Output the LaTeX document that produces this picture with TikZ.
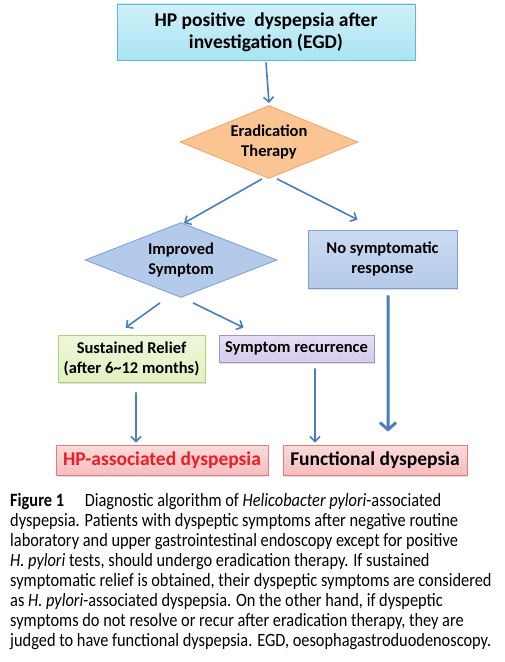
\documentclass[tikz,border=0pt]{standalone}
\usepackage{fontspec}
\setmainfont{Carlito}
\newfontfamily\captionfont[FakeStretch=0.87]{Carlito}
\usepackage{tikz}
\usetikzlibrary{shapes.geometric, arrows.meta, shadows}
\definecolor{arrowblue}{HTML}{4A7EBB}
\definecolor{cyanfill}{HTML}{A9E4F2}
\definecolor{cyanline}{HTML}{5DB8D2}
\definecolor{orangefill}{HTML}{FBC493}
\definecolor{orangeline}{HTML}{F2A566}
\definecolor{bluefill}{HTML}{B4CAEA}
\definecolor{blueline}{HTML}{7C9FD0}
\definecolor{greenfill}{HTML}{E2F1C2}
\definecolor{greenline}{HTML}{B2D17A}
\definecolor{purplefill}{HTML}{D6CBEC}
\definecolor{purpleline}{HTML}{A594CC}
\definecolor{pinkfill}{HTML}{F6BDBD}
\definecolor{pinkline}{HTML}{DD7F7D}
\definecolor{hpred}{HTML}{EE1C25}
\tikzstyle{box} = [rectangle, draw, text centered, align=center, inner sep=0pt, line width=0.8bp, drop shadow={opacity=0.25, shadow xshift=1bp, shadow yshift=-1.5bp}]
\tikzstyle{decision} = [diamond, draw, text centered, align=center, inner sep=0pt, aspect=2.4, line width=0.8bp]
\tikzstyle{label} = [font=\fontsize{16.5bp}{20bp}\selectfont\bfseries]
\tikzstyle{arrow} = [line width=1.6bp, draw=arrowblue, -{Straight Barb[length=5bp, width=10bp]}]
\tikzstyle{bigarrow} = [line width=3bp, draw=arrowblue, -{Straight Barb[length=7bp, width=16bp]}]

\begin{document}
\begin{tikzpicture}[x=1bp, y=-1bp]
\useasboundingbox [fill=white] (0,0) rectangle (505,662);
\node [box, draw=cyanline, top color=cyanfill!55, bottom color=cyanfill, minimum width=298bp, minimum height=56bp,
	font=\fontsize{19.5bp}{22bp}\selectfont\bfseries] at (266,32) (hp_positive)
	{HP positive\ \ dyspepsia after\\investigation (EGD)};
\node [decision, label, draw=orangeline, fill=orangefill, minimum width=178bp, minimum height=73bp]
	at (269,142) (eradication) {Eradication\\Therapy};
\node [decision, label, draw=blueline, fill=bluefill, minimum width=192bp, minimum height=75bp]
	at (181,260) (improved) {Improved\\Symptom};
\node [box, label, draw=blueline, top color=bluefill!70, bottom color=bluefill, minimum width=149bp, minimum height=58bp]
	at (382.5,259) (no_response) {No symptomatic\\response};
\node [box, label, draw=greenline, top color=greenfill!60, bottom color=greenfill, minimum width=147bp, minimum height=47bp]
	at (131.5,358.5) (relief) {Sustained Relief\\(after 6\textasciitilde12 months)};
\node [box, label, draw=purpleline, top color=purplefill!60, bottom color=purplefill, minimum width=155bp, minimum height=27bp]
	at (296.5,348.5) (recurrence) {Symptom recurrence};
\node [box, draw=pinkline, top color=pinkfill!55, bottom color=pinkfill, minimum width=212bp, minimum height=30bp,
	font=\fontsize{19.5bp}{22bp}\selectfont\bfseries, text=hpred] at (162,460) (hp_dyspepsia) {HP-associated dyspepsia};
\node [box, draw=pinkline, top color=pinkfill!55, bottom color=pinkfill, minimum width=184bp, minimum height=30bp,
	font=\fontsize{19.5bp}{22bp}\selectfont\bfseries] at (375,460) (functional) {Functional dyspepsia};
% connectors
\draw [arrow] ([yshift=-2bp]hp_positive.south) -- ([yshift=2bp]eradication.north);
\draw [arrow] ([xshift=-7bp]eradication.south) -- ([xshift=3bp,yshift=-1bp]improved.north);
\draw [arrow] ([xshift=8bp]eradication.south) -- ([xshift=-25bp,yshift=10bp]no_response.north);
\draw [arrow] ([xshift=-21bp,yshift=-5bp]improved.south) -- ([xshift=-6bp,yshift=7bp]relief.north);
\draw [arrow] ([xshift=12bp,yshift=-5bp]improved.south) -- ([xshift=-53bp,yshift=7bp]recurrence.north);
\draw [arrow] ([xshift=4.5bp,yshift=-10bp]relief.south) -- ([xshift=-26bp,yshift=2bp]hp_dyspepsia.north);
\draw [arrow] ([xshift=18.5bp,yshift=-6bp]recurrence.south) -- ([xshift=-60bp,yshift=2bp]functional.north);
\draw [bigarrow] ([xshift=5.5bp,yshift=-7bp]no_response.south) -- ([xshift=13bp,yshift=13bp]functional.north);
% caption
\node [anchor=north west, align=left, inner sep=0pt, font=\captionfont\fontsize{18.8bp}{20bp}\selectfont] at (10,493) (caption)
	{\textbf{Figure 1}\hspace{1.1em}Diagnostic algorithm of \textit{Helicobacter pylori}-associated\\
	dyspepsia. Patients with dyspeptic symptoms after negative routine\\
	laboratory and upper gastrointestinal endoscopy except for positive\\
	\textit{H. pylori} tests, should undergo eradication therapy. If sustained\\
	symptomatic relief is obtained, their dyspeptic symptoms are considered\\
	as \textit{H. pylori}-associated dyspepsia. On the other hand, if dyspeptic\\
	symptoms do not resolve or recur after eradication therapy, they are\\
	judged to have functional dyspepsia. EGD, oesophagastroduodenoscopy.};
\end{tikzpicture}
\end{document}
